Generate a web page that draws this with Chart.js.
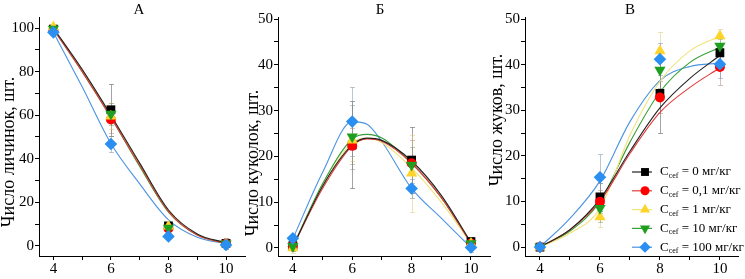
<!DOCTYPE html>
<html>
<head>
<meta charset="utf-8">
<script src="https://cdn.jsdelivr.net/npm/chart.js@4.4.1/dist/chart.umd.min.js"></script>
<style>
  html, body { margin: 0; padding: 0; background: #fff; }
  #wrap { position: relative; width: 745px; height: 279px; }
  #wrap canvas { position: absolute; left: 0; top: 0; }
</style>
</head>
<body>
<div id="wrap">
  <canvas id="chartA" width="745" height="279"></canvas>
  <canvas id="chartB" width="745" height="279"></canvas>
  <canvas id="chartV" width="745" height="279"></canvas>
</div>
<script>
// --- data ---
const days = [4, 6, 8, 10];
const doses = ['0', '0,1', '1', '10', '100'];   // мг/кг
const xTicks = [4, 6, 8, 10];
const larvaeTicks = [0, 20, 40, 60, 80, 100];
const countTicks = [0, 10, 20, 30, 40, 50];

// А – число личинок (series order: 0, 0.1, 1, 10, 100)
const larvaeMean = [
  [99.5, 62.5, 9.2, 1.2],
  [99.0, 58.0, 8.0, 1.0],
  [100.5, 59.5, 9.0, 1.0],
  [99.5, 60.5, 8.3, 1.0],
  [98.0, 46.8, 4.4, 0.5]
];
const larvaeErr = [
  [1, 12, 2, 2.5],
  [1, 6, 2, 1],
  [1, 6, 2, 1],
  [1, 5, 2, 1],
  [1, 3.5, 1, 1]
];
const larvaeFitX = [4, 5, 6, 7, 8, 9, 10];
const larvaeFit = [
  [100, 81, 60, 38, 16.5, 5.5, 1.5],
  [99.5, 80, 59, 37, 15.8, 5, 1.2],
  [100, 80.5, 59.5, 37.5, 16.2, 5.2, 1.3],
  [99.5, 80, 59, 36.5, 15.5, 5, 1.2],
  [98, 73, 47, 28.5, 12, 4, 1]
];

// Б – число куколок
const pupaeMean = [
  [0.5, 22.5, 19.2, 1.4],
  [0.4, 22.3, 18.5, 1.0],
  [0.0, 23.5, 16.3, 1.0],
  [0.4, 24.3, 18.1, 1.0],
  [2.1, 27.6, 13.0, 0.1]
];
const pupaeErr = [
  [1, 9.5, 7.3, 1],
  [1, 4, 5, 1],
  [1, 4.5, 8.4, 1],
  [1, 7, 4, 1],
  [1, 7.5, 2, 1]
];
const pupaeFitX = [4, 5, 6, 6.5, 7, 8, 9, 10];
const pupaeFit = [
  [0.3, 13.5, 22.5, 24, 23.5, 19, 11.5, 1.2],
  [0.3, 13, 22.3, 23.8, 23.3, 18.5, 11, 1],
  [0.2, 13.5, 23, 24, 23, 17.5, 10, 1],
  [0.3, 14, 23.8, 24.8, 24, 18.5, 11, 1],
  [2, 16.5, 27.6, 27, 23.2, 13, 6.5, 0.1]
];

// В – число жуков
const beetlesMean = [
  [0, 11.0, 33.7, 42.6],
  [0, 9.9, 32.8, 39.5],
  [0, 6.6, 43.0, 46.3],
  [0, 8.5, 38.8, 44.1],
  [0, 15.3, 41.2, 40.1]
];
const beetlesErr = [
  [0, 3, 8.8, 2],
  [0, 2.5, 3.5, 4],
  [0, 2.3, 4.2, 1.5],
  [0, 3, 4, 1.5],
  [0, 5.2, 3.5, 3]
];
const beetlesFitX = [4, 5, 6, 7, 8, 9, 10];
const beetlesFit = [
  [0, 3.8, 10.5, 21, 30.5, 37, 42],
  [0, 3.8, 10, 20.5, 29.5, 35, 39.3],
  [0, 3, 8.5, 24.5, 36.3, 43, 46.2],
  [0, 3.5, 10, 23, 34, 40.5, 43.8],
  [0, 6.3, 14.5, 27.5, 36.5, 39.6, 40.3]
];

// --- styles ---
const FONT = '"Liberation Serif", "Times New Roman", serif';
const markerColors = ['#000000', '#ff0000', '#ffd42a', '#1f9f1f', '#2a8ff0'];
const lineColors = ['#222222', '#e23a3a', '#f2e27a', '#35a035', '#4b93e3'];
const errColors = ['rgba(90,90,90,0.55)', 'rgba(170,110,110,0.45)', 'rgba(220,200,110,0.5)',
                   'rgba(110,140,110,0.45)', 'rgba(120,140,170,0.5)'];
const markerStyles = [
  { pointStyle: 'rect', radius: 6.2, rotation: 0 },
  { pointStyle: 'circle', radius: 5, rotation: 0 },
  { pointStyle: 'triangle', radius: 6.5, rotation: 0 },
  { pointStyle: 'triangle', radius: 6.5, rotation: 180 },
  { pointStyle: 'rectRot', radius: 6.3, rotation: 0 }
];

Chart.defaults.animation = false;
Chart.defaults.font.family = FONT;

function buildDatasets(mean, err, fitX, fit) {
  const sets = [];
  doses.forEach((d, i) => {
    sets.push({
      label: 'fit ' + d,
      data: fitX.map((x, k) => ({ x: x, y: fit[i][k] })),
      showLine: true,
      borderColor: lineColors[i],
      borderWidth: 1.1,
      pointRadius: 0,
      cubicInterpolationMode: 'monotone',
      order: 20 + i
    });
  });
  doses.forEach((d, i) => {
    sets.push({
      label: d,
      data: days.map((x, k) => ({ x: x, y: mean[i][k] })),
      errors: err[i],
      errColor: errColors[i],
      showLine: false,
      pointStyle: markerStyles[i].pointStyle,
      pointRadius: markerStyles[i].radius,
      rotation: markerStyles[i].rotation,
      backgroundColor: markerColors[i],
      borderColor: markerColors[i],
      borderWidth: 0,
      order: 4 - i
    });
  });
  return sets;
}

const errorBars = {
  id: 'errorBars',
  beforeDatasetsDraw(chart) {
    const ctx = chart.ctx, xs = chart.scales.x, ys = chart.scales.y;
    ctx.save();
    ctx.lineWidth = 1;
    chart.data.datasets.forEach(ds => {
      if (!ds.errors) return;
      ctx.strokeStyle = ds.errColor;
      ds.data.forEach((p, k) => {
        const e = ds.errors[k];
        if (!e) return;
        const px = Math.round(xs.getPixelForValue(p.x)) + 0.5;
        const top = Math.round(ys.getPixelForValue(p.y + e)) + 0.5;
        const bot = Math.round(ys.getPixelForValue(p.y - e)) + 0.5;
        ctx.beginPath();
        ctx.moveTo(px, top); ctx.lineTo(px, bot);
        ctx.moveTo(px - 2.5, top); ctx.lineTo(px + 2.5, top);
        ctx.moveTo(px - 2.5, bot); ctx.lineTo(px + 2.5, bot);
        ctx.stroke();
      });
    });
    ctx.restore();
  }
};

const panelText = {
  id: 'panelText',
  afterDraw(chart, args, opts) {
    const ctx = chart.ctx;
    ctx.save();
    ctx.fillStyle = '#000';
    ctx.textAlign = 'center';
    ctx.textBaseline = 'middle';
    ctx.font = '15px ' + FONT;
    ctx.fillText(opts.title, opts.titleX, 10);
    ctx.translate(opts.axisX, opts.axisY);
    ctx.rotate(-Math.PI / 2);
    ctx.font = '18px ' + FONT;
    ctx.fillText(opts.axisTitle, 0, 0);
    ctx.restore();
  }
};

const doseLegend = {
  id: 'doseLegend',
  afterDraw(chart, args, opts) {
    if (!opts.show) return;
    const ctx = chart.ctx;
    ctx.save();
    doses.forEach((d, i) => {
      const y = 172 + i * 18.8;
      ctx.strokeStyle = lineColors[i];
      ctx.lineWidth = 1.2;
      ctx.beginPath();
      ctx.moveTo(632, y); ctx.lineTo(652, y);
      ctx.stroke();
      ctx.fillStyle = markerColors[i];
      ctx.strokeStyle = markerColors[i];
      Chart.helpers.drawPoint(ctx, {
        pointStyle: markerStyles[i].pointStyle,
        radius: markerStyles[i].radius * 0.9,
        rotation: markerStyles[i].rotation,
        borderWidth: 0
      }, 645, y);
      ctx.fillStyle = '#000';
      ctx.textAlign = 'left';
      ctx.textBaseline = 'middle';
      ctx.font = '13px ' + FONT;
      ctx.fillText('C', 660, y);
      let x = 660 + ctx.measureText('C').width;
      ctx.font = '8px ' + FONT;
      ctx.fillText('cef', x, y + 4);
      x += ctx.measureText('cef').width;
      ctx.font = '13px ' + FONT;
      ctx.fillText(' = ' + d + ' мг/кг', x, y);
    });
    ctx.restore();
  }
};

function makePanel(id, cfg) {
  const allX = [];
  for (let v = xTicks[0]; v <= xTicks[xTicks.length - 1]; v += 1) allX.push(v);
  const yt = cfg.yTicks;
  const step = (yt[1] - yt[0]) / 2;
  const allY = [];
  for (let v = yt[0]; v <= yt[yt.length - 1]; v += step) allY.push(v);
  const axisLook = {
    grid: { display: true, drawOnChartArea: false, drawTicks: true, tickLength: 4, color: '#000', lineWidth: 1 },
    border: { display: true, color: '#000', width: 1 }
  };
  return new Chart(document.getElementById(id), {
    type: 'scatter',
    data: { datasets: buildDatasets(cfg.mean, cfg.err, cfg.fitX, cfg.fit) },
    options: {
      responsive: false,
      animation: false,
      layout: { padding: { left: cfg.areaLeft - cfg.yWidth, right: 745 - cfg.areaRight, top: 17, bottom: 0 } },
      scales: {
        x: Object.assign({
          type: 'linear', min: 3.5, max: cfg.xMax,
          afterBuildTicks: s => { s.ticks = allX.map(v => ({ value: v })); },
          afterFit: s => { s.height = 23; },
          ticks: {
            color: '#000', font: { size: 15, family: FONT }, padding: 0, maxRotation: 0, autoSkip: false,
            callback: v => xTicks.includes(v) ? String(v) : ''
          }
        }, axisLook),
        y: Object.assign({
          type: 'linear', min: cfg.yMin, max: cfg.yMax,
          afterBuildTicks: s => { s.ticks = allY.map(v => ({ value: v })); },
          afterFit: s => { s.width = cfg.yWidth; },
          ticks: {
            color: '#000', font: { size: 15, family: FONT }, padding: 1, autoSkip: false,
            callback: v => yt.includes(v) ? String(v) : ''
          }
        }, axisLook)
      },
      plugins: {
        legend: { display: false },
        tooltip: { enabled: false },
        panelText: cfg.text,
        doseLegend: { show: !!cfg.legend }
      }
    },
    plugins: [errorBars, panelText, doseLegend]
  });
}

makePanel('chartA', {
  mean: larvaeMean, err: larvaeErr, fitX: larvaeFitX, fit: larvaeFit,
  yTicks: larvaeTicks, yMin: -4.6, yMax: 105.05, xMax: 10.66,
  areaLeft: 39, areaRight: 245, yWidth: 39,
  text: { title: 'А', titleX: 139, axisTitle: 'Число личинок, шт.', axisX: 9, axisY: 152 }
});
makePanel('chartB', {
  mean: pupaeMean, err: pupaeErr, fitX: pupaeFitX, fit: pupaeFit,
  yTicks: countTicks, yMin: -1.75, yMax: 50.44, xMax: 10.64,
  areaLeft: 278, areaRight: 490, yWidth: 34,
  text: { title: 'Б', titleX: 380, axisTitle: 'Число куколок, шт.', axisX: 253, axisY: 163 }
});
makePanel('chartV', {
  mean: beetlesMean, err: beetlesErr, fitX: beetlesFitX, fit: beetlesFit,
  yTicks: countTicks, yMin: -1.97, yMax: 50.44, xMax: 10.62,
  areaLeft: 525, areaRight: 745, yWidth: 35, legend: true,
  text: { title: 'В', titleX: 630, axisTitle: 'Число жуков, шт.', axisX: 497, axisY: 120 }
});
</script>
</body>
</html>
